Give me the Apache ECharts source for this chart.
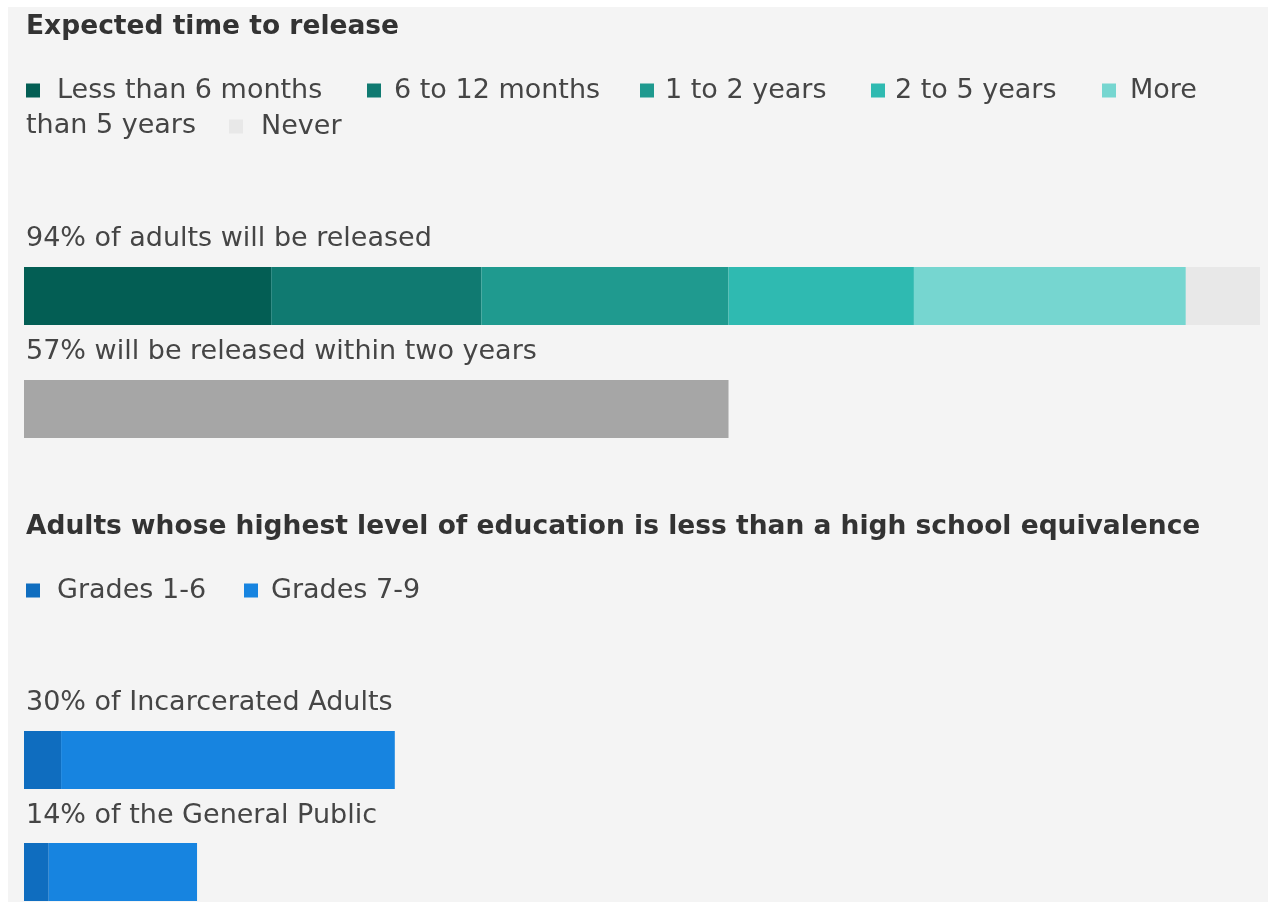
<!DOCTYPE html>
<html>
<head>
<meta charset="utf-8">
<title>Expected time to release</title>
<script src="https://cdn.jsdelivr.net/npm/echarts@6/dist/echarts.min.js"></script>
<style>
  html, body { margin: 0; padding: 0; background: #ffffff; }
  #chart { position: absolute; left: 8px; top: 7px; width: 1260px; height: 895px; }
</style>
</head>
<body>
<div id="chart"></div>
<script>
// ---- data ----
const releaseCategories = ['Less than 6 months', '6 to 12 months', '1 to 2 years', '2 to 5 years', 'More than 5 years', 'Never'];
const releaseShares = [20, 17, 20, 15, 22, 6];
const withinTwoYearsShare = 57;
const educationGroups = ['Incarcerated Adults', 'the General Public'];
const educationLevels = ['Grades 1-6', 'Grades 7-9'];
const grades1to6 = [3, 2];
const grades7to9 = [27, 12];

// ---- styling ----
const releaseColors = ['#035e54', '#107a71', '#1f9a8f', '#2fbab1', '#76d6d0', '#e8e8e8'];
const educationColors = ['#0f6dbf', '#1784e0'];
const FONT = '"DejaVu Sans", sans-serif';
const TITLE_COLOR = '#333333';
const TEXT_COLOR = '#454545';
const BAR_LEFT = 16, BAR_WIDTH = 1236, BAR_HEIGHT = 58;

const releasedTotal = releaseShares.slice(0, 5).reduce((a, b) => a + b, 0);
const eduTotals = grades1to6.map((v, i) => v + grades7to9[i]);

// bar rows: grid tops within the chart
const gridTops = [260, 373, 724, 836];
const grids = gridTops.map(top => ({ left: BAR_LEFT, width: BAR_WIDTH, top: top, height: BAR_HEIGHT }));
const xAxes = gridTops.map((_, i) => ({ type: 'value', gridIndex: i, min: 0, max: 100, show: false }));
const yAxes = gridTops.map((_, i) => ({ type: 'category', gridIndex: i, data: ['row'], show: false }));

const series = [];
releaseCategories.forEach((name, i) => {
  series.push({
    name: name, type: 'bar', stack: 'release', xAxisIndex: 0, yAxisIndex: 0,
    barWidth: '100%', data: [releaseShares[i]],
    itemStyle: { color: releaseColors[i] }, emphasis: { disabled: true }
  });
});
series.push({
  name: 'Released within two years', type: 'bar', xAxisIndex: 1, yAxisIndex: 1,
  barWidth: '100%', data: [withinTwoYearsShare],
  itemStyle: { color: '#a6a6a6' }, emphasis: { disabled: true }
});
educationGroups.forEach((group, g) => {
  [grades1to6, grades7to9].forEach((vals, k) => {
    series.push({
      name: educationLevels[k], type: 'bar', stack: 'edu' + g,
      xAxisIndex: 2 + g, yAxisIndex: 2 + g,
      barWidth: '100%', data: [vals[g]],
      itemStyle: { color: educationColors[k] }, emphasis: { disabled: true }
    });
  });
});

// legend items, one component each so every key sits where it should
function legendItem(name, left, top, pad, label) {
  return {
    data: [name], left: left, top: top, padding: 0,
    icon: 'rect', itemWidth: 14, itemHeight: 14,
    selectedMode: true,
    formatter: label ? () => label : undefined,
    textStyle: { fontFamily: FONT, fontSize: 27, lineHeight: 27, color: TEXT_COLOR, padding: [0, 0, 0, pad] }
  };
}
const legends = [
  legendItem(releaseCategories[0], 18, 70, 12),
  legendItem(releaseCategories[1], 359, 70, 8),
  legendItem(releaseCategories[2], 632, 70, 6),
  legendItem(releaseCategories[3], 863, 70, 5),
  legendItem(releaseCategories[4], 1094, 70, 9, 'More'),
  legendItem(releaseCategories[5], 221, 106, 13),
  legendItem(educationLevels[0], 18, 570, 12),
  legendItem(educationLevels[1], 236, 570, 8)
];

function text(str, x, y, opts) {
  return {
    type: 'text', x: x, y: y, silent: true,
    style: Object.assign({
      text: str, fill: TEXT_COLOR, font: '27px ' + FONT, verticalAlign: 'middle', align: 'left'
    }, opts || {})
  };
}

const graphics = [
  text('Expected time to release', 18, 20, { fill: TITLE_COLOR, font: 'bold 26.5px ' + FONT }),
  text('than 5 years', 18, 119),
  text(releasedTotal + '% of adults will be released', 18, 232),
  text(withinTwoYearsShare + '% will be released within two years', 18, 345),
  text('Adults whose highest level of education is less than a high school equivalence', 18, 520,
       { fill: TITLE_COLOR, font: 'bold 26.5px ' + FONT }),
  text(eduTotals[0] + '% of ' + educationGroups[0], 18, 696),
  text(eduTotals[1] + '% of ' + educationGroups[1], 18, 809)
];

const chart = echarts.init(document.getElementById('chart'), null, { renderer: 'canvas' });
chart.setOption({
  backgroundColor: '#f4f4f4',
  animation: false,
  tooltip: { show: false },
  grid: grids,
  xAxis: xAxes,
  yAxis: yAxes,
  legend: legends,
  series: series,
  graphic: graphics
});
</script>
</body>
</html>
